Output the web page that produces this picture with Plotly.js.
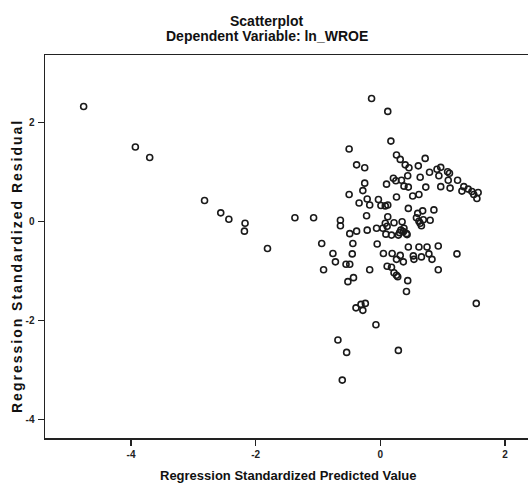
<!DOCTYPE html>
<html>
<head>
<meta charset="utf-8">
<script src="https://cdn.plot.ly/plotly-3.0.1.min.js"></script>
<style>html,body{margin:0;padding:0;background:#fff;}</style>
</head>
<body>
<div id="chart" style="width:528px;height:483px;"></div>
<script>
var predicted = [
-4.76,-3.93,-3.70,-2.82,-2.56,-2.43,-2.17,-2.18,-1.81,-1.37,
-1.07,-0.94,-0.91,-0.76,-0.72,-0.68,-0.64,-0.64,-0.61,-0.55,
-0.54,-0.52,-0.50,-0.50,-0.49,-0.49,-0.45,-0.44,-0.43,-0.39,
-0.38,-0.38,-0.34,-0.31,-0.28,-0.28,-0.25,-0.25,-0.24,-0.22,
-0.21,-0.21,-0.17,-0.17,-0.14,-0.07,-0.06,-0.05,-0.03,0.01,
0.04,0.05,0.08,0.08,0.09,0.10,0.11,0.11,0.12,0.12,
0.12,0.17,0.18,0.18,0.19,0.21,0.22,0.22,0.25,0.26,
0.26,0.26,0.26,0.28,0.29,0.29,0.32,0.32,0.33,0.34,
0.35,0.37,0.37,0.38,0.40,0.42,0.42,0.43,0.44,0.44,
0.45,0.45,0.45,0.46,0.52,0.53,0.54,0.58,0.60,0.61,
0.62,0.62,0.62,0.64,0.64,0.66,0.66,0.68,0.69,0.72,
0.73,0.75,0.78,0.79,0.80,0.83,0.86,0.91,0.93,0.93,
0.94,0.97,0.97,1.08,1.09,1.11,1.12,1.23,1.24,1.31,
1.34,1.41,1.47,1.50,1.54,1.55,1.57,0.31,0.38
];
var residual = [
2.33,1.51,1.30,0.43,0.18,0.05,-0.03,-0.19,-0.54,0.08,
0.08,-0.44,-0.97,-0.64,-0.81,-2.39,0.03,-0.08,-3.20,-0.86,
-2.64,-1.21,1.47,0.55,-0.24,-0.86,-0.65,-0.44,-1.13,-1.74,
1.15,-0.19,0.38,-1.67,0.63,-1.79,1.09,0.78,-1.65,0.12,
0.46,-0.17,0.34,-0.97,2.49,-2.08,-0.13,-0.45,0.45,0.33,
-0.13,-0.64,0.32,-0.03,-0.25,0.76,-0.90,-0.09,2.23,0.34,
0.10,1.63,-0.27,-0.92,-0.64,0.88,-0.02,-1.03,0.83,1.35,
0.50,-0.76,-1.08,-1.11,-0.27,-2.60,1.26,-0.68,-0.17,0.84,
0.00,-0.20,-0.81,0.72,1.15,-0.24,-1.41,-0.26,0.93,-1.19,
0.70,0.27,-0.51,1.09,0.52,-0.69,-0.76,0.08,0.17,1.13,
0.55,0.01,-0.51,0.90,-0.03,-0.08,-0.71,0.22,0.04,1.28,
0.70,-0.51,-0.65,1.00,0.03,-0.76,0.24,1.06,-0.49,-0.97,
0.93,1.10,0.71,1.01,0.84,0.98,0.68,-0.65,0.84,0.62,
0.71,0.66,0.61,0.55,-1.65,0.47,0.59,-0.22,-0.13
];
var xTicks = [-4, -2, 0, 2];
var yTicks = [-4, -2, 0, 2];
var chartTitle = 'Scatterplot';
var chartSubtitle = 'Dependent Variable: ln_WROE';
var xTitle = 'Regression Standardized Predicted Value';
var yTitle = 'Regression Standardized Residual';

var FAM = 'Liberation Sans, Arial, sans-serif';
var tickFont = {family: FAM, size: 10, color: '#222', weight: 'bold'};
var titleFont = {family: FAM, size: 14, color: '#111', weight: 'bold'};
var axisTitleFont = {family: FAM, size: 13, color: '#111', weight: 'bold'};

var trace = {
  x: predicted,
  y: residual,
  type: 'scatter',
  mode: 'markers',
  marker: {symbol: 'circle-open', size: 6, color: '#1a1a1a', line: {width: 1.6, color: '#1a1a1a'}},
  hoverinfo: 'none'
};

var layout = {
  width: 528,
  height: 483,
  margin: {l: 45, r: 0, t: 55, b: 45},
  paper_bgcolor: '#ffffff',
  plot_bgcolor: '#ffffff',
  showlegend: false,
  xaxis: {
    range: [-5.38, 2.37],
    tickvals: xTicks,
    ticktext: xTicks.map(String),
    ticks: 'outside', ticklen: 6, tickwidth: 1.2, tickcolor: '#222',
    showline: true, linecolor: '#222', linewidth: 1.5, mirror: true,
    showgrid: false, zeroline: false,
    tickfont: tickFont,
    title: {text: ''}
  },
  yaxis: {
    range: [-4.37, 3.37],
    tickvals: yTicks,
    ticktext: yTicks.map(String),
    ticks: 'outside', ticklen: 6, tickwidth: 1.2, tickcolor: '#222',
    showline: true, linecolor: '#222', linewidth: 1.5, mirror: false,
    showgrid: false, zeroline: false,
    tickfont: tickFont,
    ticklabelstandoff: 1,
    title: {text: ''}
  },
  annotations: [
    {text: chartTitle, xref: 'paper', yref: 'paper', x: 0.4586, y: 1.0875,
     xanchor: 'center', yanchor: 'middle', showarrow: false, font: titleFont},
    {text: chartSubtitle, xref: 'paper', yref: 'paper', x: 0.4586, y: 1.0496,
     xanchor: 'center', yanchor: 'middle', showarrow: false, font: titleFont},
    {text: xTitle, xref: 'paper', yref: 'paper',
     x: 0.503, y: -0.099, xanchor: 'center', yanchor: 'middle', showarrow: false, font: axisTitleFont},
    {text: '<span style="letter-spacing:2px">' + yTitle + '</span>', xref: 'paper', yref: 'paper',
     x: -0.058, y: 0.449, textangle: -90, xanchor: 'center', yanchor: 'middle', showarrow: false,
     font: {family: FAM, size: 14, color: '#111', weight: 'bold'}}
  ]
};

Plotly.newPlot('chart', [trace], layout, {displayModeBar: false, staticPlot: true});
</script>
</body>
</html>
